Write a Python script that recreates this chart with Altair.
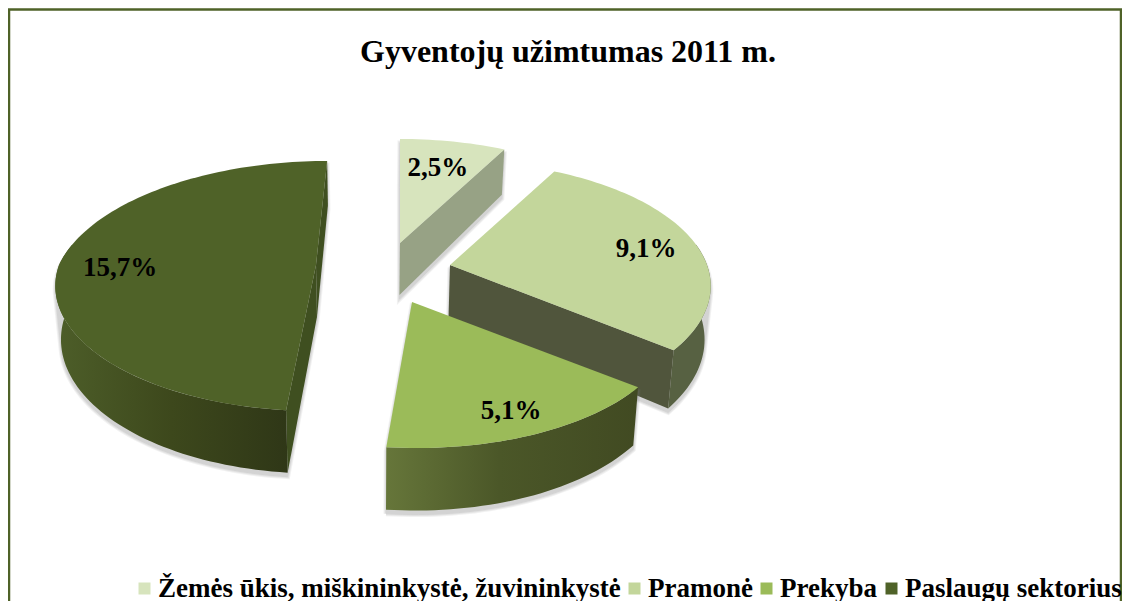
import math
import altair as alt
import pandas as pd

TITLE = "Gyventojų užimtumas 2011 m."
CATEGORIES = ["Žemės ūkis, miškininkystė, žuvininkystė", "Pramonė", "Prekyba", "Paslaugų sektorius"]
VALUES = [2.5, 9.1, 5.1, 15.7]
COLORS = ["#d7e4bd", "#c3d69b", "#9bbb59", "#4f6228"]

# layout of the exploded perspective pie (reference pixels)
APEX = [(400, 243), (450, 265), (412, 302), (316, 265)]
SKEW = [0, 0, 0, 13]
FRONT = [0, 0, 3.5, 0]
LABEL_R = [0.68, 0.80, 0.84, 0.77]
LABEL_DY = [-3, 3, 1, 8]
RX, RY, K, DEPTH, VX, SHR = 257.0, 121.5, 0.168, 52.0, 370.0, 0.018
FONT = "Liberation Serif"

XS = alt.Scale(domain=[8, 1122], nice=False, zero=False)
YS = alt.Scale(domain=[601, 8], nice=False, zero=False)
X = alt.X("x:Q", scale=XS, axis=None)
Y = alt.Y("y:Q", scale=YS, axis=None)


def top(s, deg, r=1.0):
    t = math.radians(deg)
    u, v = r * math.sin(t), r * math.cos(t)
    w = 1 + K * v
    return (APEX[s][0] + (RX * u + SKEW[s] * max(v, 0) + FRONT[s] * max(-v, 0)) / w,
            APEX[s][1] - RY * v / w, w)


def bottom(p):
    return (p[0] - (p[0] - VX) * SHR, p[1] + DEPTH / p[2])


def arc(s, a, b):
    n = max(2, int(abs(b - a) / 1.5))
    return [top(s, a + (b - a) * i / n) for i in range(n + 1)]


def hull(pts):
    pts = sorted(set(pts))
    def cross(o, a, b):
        return (a[0] - o[0]) * (b[1] - o[1]) - (a[1] - o[1]) * (b[0] - o[0])
    lo, up = [], []
    for p in pts:
        while len(lo) > 1 and cross(lo[-2], lo[-1], p) <= 0:
            lo.pop()
        lo.append(p)
    for p in reversed(pts):
        while len(up) > 1 and cross(up[-2], up[-1], p) <= 0:
            up.pop()
        up.append(p)
    return lo[:-1] + up[:-1]


def poly(points, **mark):
    closed = list(points) + [points[0]]
    df = pd.DataFrame({"x": [p[0] for p in closed], "y": [p[1] for p in closed], "i": range(len(closed))})
    return alt.Chart(df).mark_line(**mark).encode(x=X, y=Y, order="i:Q")


def hgrad(*stops):
    return alt.Gradient(
        gradient="linear", x1=0, x2=1, y1=0, y2=0,
        stops=[alt.GradientStop(offset=o, color=c) for o, c in stops],
    )


def wall_quad(a, b):
    return [(a[0], a[1]), (b[0], b[1]), bottom(b)[:2], bottom(a)[:2]]


def outer_wall(s, a, b):
    rim = arc(s, a, b)
    return [p[:2] for p in rim] + [bottom(p) for p in reversed(rim)]


total = sum(VALUES)
edges = [0.0]
for v in VALUES:
    edges.append(edges[-1] + v / total * 360)

layers = []

# legend carrier: one small square per category, covered by the pie faces
leg_df = pd.DataFrame({
    "cat": CATEGORIES,
    "x": [top(i, (edges[i] + edges[i + 1]) / 2, 0.3)[0] for i in range(4)],
    "y": [top(i, (edges[i] + edges[i + 1]) / 2, 0.3)[1] for i in range(4)],
})
layers.append(
    alt.Chart(leg_df).mark_square(size=4).encode(
        x=X, y=Y,
        color=alt.Color(
            "cat:N",
            scale=alt.Scale(domain=CATEGORIES, range=COLORS),
            legend=alt.Legend(
                orient="none", legendX=123, legendY=567, direction="horizontal", columns=4,
                gridAlign="none", title=None, symbolType="square", symbolSize=144, symbolStrokeWidth=0,
                symbolOpacity=1,
                labelFont=FONT, labelFontSize=27, labelFontWeight="bold", labelColor="black",
                labelLimit=0, columnPadding=0, labelOffset=0, padding=0,
            ),
        ),
    )
)

for s in [0, 1, 3, 2]:
    apex = APEX[s]
    a, b = edges[s], edges[s + 1]
    ax = (apex[0], apex[1], 1.0)
    rim = arc(s, a, b)
    face = [apex] + [p[:2] for p in rim]
    # soft shadow from the convex silhouette
    sil = hull([p[:2] for p in rim] + [apex] + [bottom(p) for p in rim] + [bottom(ax)])
    shifted = [(p[0], p[1] + 4) for p in sil]
    for sw, op in [(5, 0.10), (3, 0.12), (1, 0.14)]:
        layers.append(poly(shifted, fill="#7f7f7f", stroke="#7f7f7f", strokeWidth=sw, opacity=op))

    if s == 0:
        layers.append(poly(wall_quad(ax, top(s, b)), fill="#97a285", strokeWidth=0))
    elif s == 1:
        layers.append(poly(outer_wall(s, 80, b), fill="#576142", strokeWidth=0))
        layers.append(poly(wall_quad(ax, top(s, b)), fill="#50553c", strokeWidth=0))
    elif s == 2:
        layers.append(poly(outer_wall(s, a, b),
                           fill=hgrad((0, "#66763a"), (0.45, "#4b5728"), (1, "#414a22")), strokeWidth=0))
    else:
        layers.append(poly(wall_quad(ax, top(s, a)), fill="#3f4f20", strokeWidth=0))
        layers.append(poly(wall_quad(ax, top(s, b)), fill="#3f4f20", strokeWidth=0))
        layers.append(poly(outer_wall(s, a, 280),
                           fill=hgrad((0, "#4d5e29"), (0.5, "#3d481c"), (1, "#2f3717")), strokeWidth=0))
    layers.append(poly(face, fill=COLORS[s], strokeWidth=0))

# data labels
lab_rows = []
for s in range(4):
    p = top(s, (edges[s] + edges[s + 1]) / 2, LABEL_R[s])
    lab_rows.append({"x": p[0], "y": p[1] + LABEL_DY[s], "t": f"{VALUES[s]:.1f}%".replace(".", ",")})
layers.append(
    alt.Chart(pd.DataFrame(lab_rows)).mark_text(
        font=FONT, fontSize=27, fontWeight="bold", color="black", align="center", baseline="middle"
    ).encode(x=X, y=Y, text="t:N")
)

# chart frame, open at the bottom
frame = [(9, 601), (9, 9.5), (1121, 9.5), (1121, 601)]
frame_df = pd.DataFrame({"x": [p[0] for p in frame], "y": [p[1] for p in frame], "i": range(4)})
layers.append(alt.Chart(frame_df).mark_line(color="#4f6228", strokeWidth=2.5).encode(x=X, y=Y, order="i:Q"))

chart = (
    alt.layer(*layers)
    .properties(
        width=1114, height=593, padding=0, background="white",
        autosize=alt.AutoSizeParams(type="none"),
        title=alt.TitleParams(
            TITLE, font=FONT, fontSize=32, fontWeight="bold", color="black",
            anchor="start", dx=356, dy=64, offset=0,
        ),
    )
    .configure_view(stroke=None)
)
chart.save("out.html", embed_options={"renderer": "svg", "actions": False})
